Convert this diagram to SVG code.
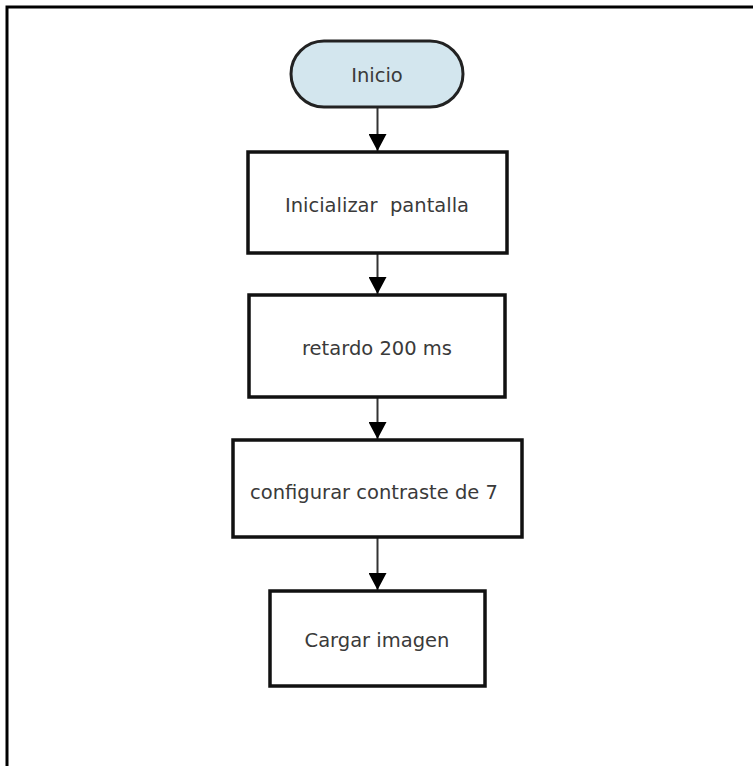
<svg xmlns="http://www.w3.org/2000/svg" width="753" height="766" viewBox="0 0 753 766">
  <style>
    .frame { stroke: #000; stroke-width: 3; fill: none; }
    .box { fill: #fff; stroke: #111; stroke-width: 3.5; }
    .term { fill: #d3e6ee; stroke: #222; stroke-width: 3; }
    .lbl { font-family: "DejaVu Sans", Verdana, sans-serif; font-size: 19.5px; fill: #3a3a3a; text-anchor: middle; dominant-baseline: central; }
    .conn { stroke: #333; stroke-width: 2; fill: none; marker-end: url(#head); }
  </style>
  <defs>
    <marker id="head" markerUnits="userSpaceOnUse" markerWidth="18" markerHeight="18" refX="17" refY="9" orient="auto">
      <path d="M0,0 L17,9 L0,18 Z" fill="#000"/>
    </marker>
  </defs>

  <rect width="753" height="766" fill="#fff"/>
  <!-- frame: top and left edges -->
  <path class="frame" d="M7,766 V7 H753"/>

  <g id="connectors">
    <line class="conn" x1="377.5" y1="107" x2="377.5" y2="151"/>
    <line class="conn" x1="377.5" y1="253" x2="377.5" y2="294"/>
    <line class="conn" x1="377.5" y1="397" x2="377.5" y2="439"/>
    <line class="conn" x1="377.5" y1="537" x2="377.5" y2="590"/>
  </g>

  <g id="inicio">
    <rect class="term" x="291" y="41" width="172" height="66" rx="33" ry="33"/>
    <text class="lbl" x="377" y="75">Inicio</text>
  </g>

  <g id="inicializar">
    <rect class="box" x="248" y="152" width="259" height="101"/>
    <text class="lbl" x="377" y="205" xml:space="preserve">Inicializar  pantalla</text>
  </g>

  <g id="retardo">
    <rect class="box" x="249" y="295" width="256" height="102"/>
    <text class="lbl" x="377" y="348">retardo 200 ms</text>
  </g>

  <g id="contraste">
    <rect class="box" x="233" y="440" width="289" height="97"/>
    <text class="lbl" x="374" y="492">configurar contraste de 7</text>
  </g>

  <g id="cargar">
    <rect class="box" x="270" y="591" width="215" height="95"/>
    <text class="lbl" x="377" y="640">Cargar imagen</text>
  </g>
</svg>
